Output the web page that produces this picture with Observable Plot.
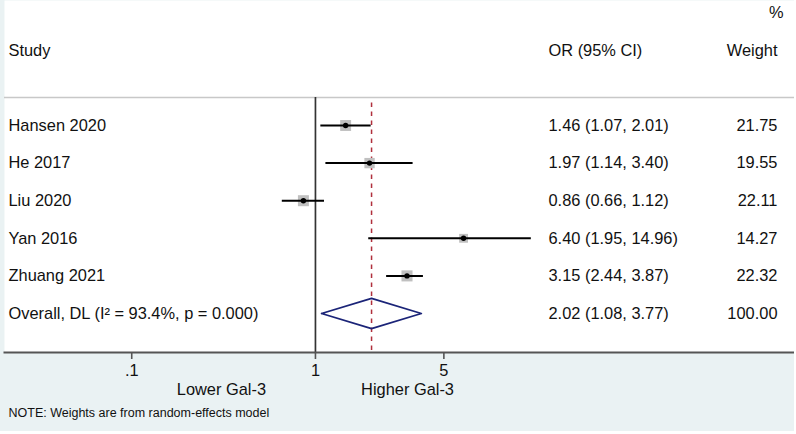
<!DOCTYPE html>
<html><head><meta charset="utf-8">
<script src="https://cdn.jsdelivr.net/npm/d3@7"></script>
<script src="https://cdn.jsdelivr.net/npm/@observablehq/plot@0.6"></script>
<style>body{margin:0;background:#fff} svg{display:block}</style>
</head><body><div id="chart"></div>
<script>
const studies = ["Hansen 2020", "He 2017", "Liu 2020", "Yan 2016", "Zhuang 2021"];
const orValues = [1.46, 1.97, 0.86, 6.40, 3.15];
const ciLow = [1.07, 1.14, 0.66, 1.95, 2.44];
const ciHigh = [2.01, 3.40, 1.12, 14.96, 3.87];
const weights = [21.75, 19.55, 22.11, 14.27, 22.32];
const overallLabel = "Overall, DL (I² = 93.4%, p = 0.000)";
const overallOR = 2.02, overallLow = 1.08, overallHigh = 3.77, overallWeight = 100.00;
const tickValues = [0.1, 1, 5];
const tickLabels = [".1", "1", "5"];
const favourLabels = ["Lower Gal-3", "Higher Gal-3"];
const note = "NOTE: Weights are from random-effects model";

const f2 = v => v.toFixed(2);
const rows = studies.map((s, i) => ({
  study: s, row: i, or: orValues[i], lo: ciLow[i], hi: ciHigh[i], w: weights[i],
  ci: `${f2(orValues[i])} (${f2(ciLow[i])}, ${f2(ciHigh[i])})`, wt: f2(weights[i])
}));
const overallRow = studies.length;
const textRows = [...rows, {study: overallLabel, row: overallRow,
  ci: `${f2(overallOR)} (${f2(overallLow)}, ${f2(overallHigh)})`, wt: f2(overallWeight)}];
const dh = 0.4;
const diamond = [
  {x: overallLow, y: overallRow}, {x: overallOR, y: overallRow - dh},
  {x: overallHigh, y: overallRow}, {x: overallOR, y: overallRow + dh},
  {x: overallLow, y: overallRow}
];
const ticks = tickValues.map((v, i) => ({v, label: tickLabels[i]}));
const headerRow = -2, pctRow = -3, lineRow = -0.745, yTop = -3.3245, yBottom = 6.0372;

const font = "'Liberation Sans', Arial, Helvetica, sans-serif";
const chart = Plot.plot({
  width: 794, height: 431,
  marginLeft: 4, marginRight: 0, marginTop: 0, marginBottom: 79,
  style: {fontFamily: font, fontSize: "16.4px", background: "#eaf2f3", color: "#111"},
  x: {type: "log", domain: [0.0203, 405], axis: null},
  y: {domain: [yTop, yBottom], reverse: true, axis: null},
  r: {domain: [0, 22.32], range: [0, 6.24]},
  marks: [
    Plot.frame({fill: "white", stroke: null}),
    Plot.ruleY([lineRow], {stroke: "#c8c8c8", strokeWidth: 1.3}),
    Plot.ruleX([1], {y1: lineRow, y2: yBottom, stroke: "#333", strokeWidth: 1.7}),
    Plot.ruleX([overallOR], {y1: -0.6, y2: yBottom, stroke: "#b0303c", strokeWidth: 1.5, strokeDasharray: "4.5,4.5"}),
    Plot.dot(rows, {x: "or", y: "row", r: "w", symbol: "square", fill: "#c0c0c0"}),
    Plot.ruleY(rows, {y: "row", x1: "lo", x2: "hi", stroke: "#000", strokeWidth: 2}),
    Plot.dot(rows, {x: "or", y: "row", r: 2.7, symbol: "circle", fill: "#000"}),
    Plot.line(diamond, {x: "x", y: "y", stroke: "#1b2478", strokeWidth: 1.8}),
    Plot.text(textRows, {y: "row", text: "study", frameAnchor: "left", dx: 4, textAnchor: "start", fontSize: 16.4}),
    Plot.text(textRows, {y: "row", text: "ci", frameAnchor: "left", dx: 544, textAnchor: "start", fontSize: 16.4}),
    Plot.text(textRows, {y: "row", text: "wt", frameAnchor: "right", dx: -17, textAnchor: "end", fontSize: 16.4}),
    Plot.text(["Study"], {y: headerRow, text: d => d, frameAnchor: "left", dx: 4, textAnchor: "start", fontSize: 16.4}),
    Plot.text(["OR (95% CI)"], {y: headerRow, text: d => d, frameAnchor: "left", dx: 544, textAnchor: "start", fontSize: 16.4}),
    Plot.text(["Weight"], {y: headerRow, text: d => d, frameAnchor: "right", dx: -17, textAnchor: "end", fontSize: 16.4}),
    Plot.text(["%"], {y: pctRow, text: d => d, frameAnchor: "right", dx: -11, textAnchor: "end", fontSize: 16.4}),
    Plot.frame({anchor: "bottom", stroke: "#555", strokeWidth: 2}),
    Plot.ruleX(ticks, {x: "v", y1: yBottom, y2: 6.223, stroke: "#555", strokeWidth: 1.6}),
    Plot.text(ticks, {x: "v", y: 6.51, text: "label", fontSize: 16.4}),
    Plot.text(favourLabels, {x: [0.3077, 3.17], y: [7.021, 7.021], text: d => d, fontSize: 16.4}),
    Plot.text([note], {y: 7.641, text: d => d, frameAnchor: "left", dx: 4, textAnchor: "start", fontSize: 12.5})
  ]
});
document.getElementById("chart").appendChild(chart);
</script>
</body></html>
